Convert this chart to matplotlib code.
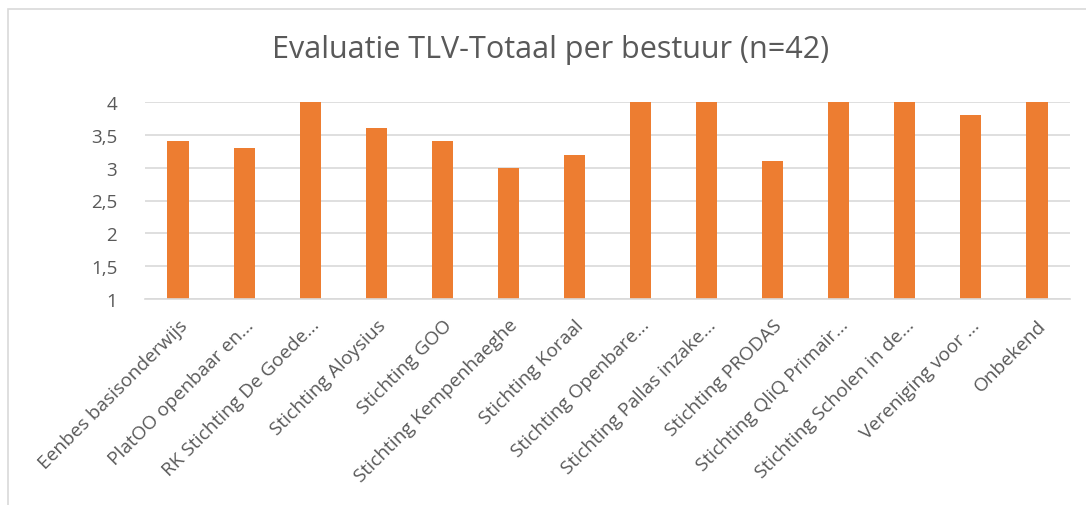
import matplotlib
matplotlib.use("Agg")
import matplotlib.pyplot as plt
from matplotlib.patches import Rectangle

plt.rcParams["font.family"] = ["Open Sans", "DejaVu Sans"]

categories = [
    "Eenbes basisonderwijs",
    "PlatOO openbaar en...",
    "RK Stichting De Goede...",
    "Stichting Aloysius",
    "Stichting GOO",
    "Stichting Kempenhaeghe",
    "Stichting Koraal",
    "Stichting Openbare...",
    "Stichting Pallas inzake...",
    "Stichting PRODAS",
    "Stichting QliQ Primair...",
    "Stichting Scholen in de...",
    "Vereniging voor ...",
    "Onbekend",
]
values = [3.4, 3.3, 4.0, 3.6, 3.4, 3.0, 3.2, 4.0, 4.0, 3.1, 4.0, 4.0, 3.8, 4.0]
yticks = [1, 1.5, 2, 2.5, 3, 3.5, 4]
ytick_labels = ["1", "1,5", "2", "2,5", "3", "3,5", "4"]

BAR = "#ED7D31"
GRID = "#D9D9D9"
TEXT = "#595959"

fig = plt.figure(figsize=(10.86, 5.06), dpi=100)
# chart frame
fig.patches.append(Rectangle((8 / 1086, -0.1), 1.2, 1.1 - 10 / 506,
                             transform=fig.transFigure, fill=False,
                             edgecolor=GRID, lw=1.2))

ax = fig.add_axes([145 / 1086, 1 - 300 / 506, 925 / 1086, 197 / 506])
x = range(len(categories))
ax.bar(x, values, width=0.32, bottom=0, color=BAR, zorder=3)
ax.set_ylim(1, 4)
ax.set_xlim(-0.5, len(categories) - 0.5)
ax.set_yticks(yticks)
ax.set_yticklabels(ytick_labels, color=TEXT, fontsize=13.5)
ax.set_xticks(list(x))
ax.set_xticklabels(categories, rotation=45, ha="right", rotation_mode="anchor",
                   color=TEXT, fontsize=13.8)
ax.tick_params(length=0, axis="y", pad=20)
ax.tick_params(length=0, axis="x", pad=12)
ax.grid(axis="y", color=GRID, lw=1.2, zorder=0)
ax.axhline(1, color=GRID, lw=1.2, zorder=4, clip_on=False)
for s in ax.spines.values():
    s.set_visible(False)

fig.text(551 / 1086, 1 - 50 / 506, "Evaluatie TLV-Totaal per bestuur (n=42)",
         ha="center", va="center", fontsize=22, color=TEXT)

fig.savefig("out.png", dpi=100)
